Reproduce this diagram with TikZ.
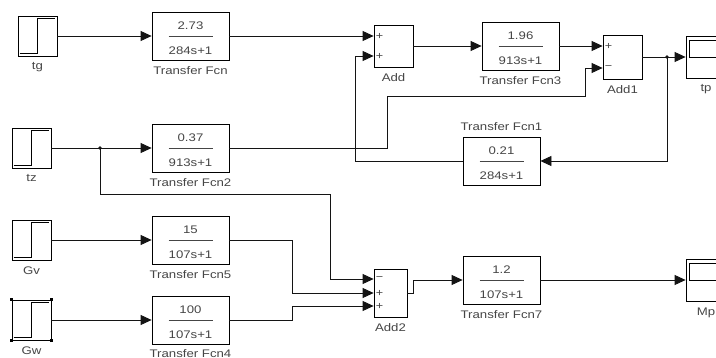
\documentclass[tikz,border=0pt]{standalone}
\usepackage{fontspec}
\setmainfont{Liberation Sans}[FakeStretch=1.2]
\usepackage{xcolor}
\usetikzlibrary{calc}
\usetikzlibrary{arrows.meta}
\def\sigwidth{0.8pt}
\definecolor{wireblack}{rgb}{0.08,0.08,0.08}
\definecolor{textgrey}{rgb}{0.27,0.27,0.27}
% numerator, bar, denominator of a transfer block
\newcommand{\tfn}[2]{\vbox{\kern4pt\hbox to 44pt{\hss#1\hss}\kern6pt\hrule height 0.8pt\kern10pt\hbox to 44pt{\hss#2\hss}}}
\newcommand{\stepsym}[1]{\draw [line width=\sigwidth] ([xshift=2pt,yshift=3pt]#1.south west) -- ([yshift=3pt]#1.south) -- ([yshift=-3pt]#1.north) -- ([xshift=-2pt,yshift=-3pt]#1.north east);}
\newcommand{\scopesym}[1]{\draw [line width=\sigwidth] ($(#1.north west)+(4,5)$) rectangle ($(#1.north east)+(-4,22)$);}

\begin{document}
\begin{tikzpicture}[x = 1pt, y = -1pt, >={Triangle[length=11pt,width=10pt]},
    every node/.style={font=\fontsize{11}{13}\selectfont},
    every label/.style={text=textgrey, inner sep=1pt},
    label distance=5pt,
    wire/.style={line width=\sigwidth, color=wireblack},
    stepbox/.style={draw, line width=\sigwidth, minimum width=39pt, minimum height=40pt, inner sep=0pt},
    tfbox/.style={draw, line width=\sigwidth, minimum width=77pt, minimum height=48pt, inner sep=0pt, text=textgrey},
    sumbox/.style={draw, line width=\sigwidth, minimum width=39pt, minimum height=42pt, inner sep=0pt},
    scopebox/.style={draw, line width=\sigwidth, minimum width=40pt, minimum height=42pt, inner sep=0pt},
    sign/.style={text=textgrey, inner sep=0pt, font=\fontsize{10.5}{10.5}\selectfont}]
        \clip (0,0) rectangle (716,358);

        % sources
            \node [stepbox, label={below:tg}] (tg) at (37.5,36) {};
            \node [stepbox, label={below:tz}] (tz) at (31.5,148) {};
            \node [stepbox, label={below:Gv}] (Gv) at (31.5,240) {};
            \node [stepbox, label={below:Gw}] (Gw) at (31.5,320) {};
        \stepsym{tg} \stepsym{tz} \stepsym{Gv} \stepsym{Gw}
        \foreach \c in {north west, north east, south west, south east}
            \fill (Gw.\c) ++(-1.8,-1.8) rectangle ++(3.6,3.6);

        % transfer functions
            \node [tfbox, label={below:Transfer Fcn}] (tf) at (190.5,36) {\tfn{2.73}{284s+1}};
            \node [tfbox, label={below:Transfer Fcn2}] (tf2) at (190.5,148) {\tfn{0.37}{913s+1}};
            \node [tfbox, label={below:Transfer Fcn5}] (tf5) at (190.5,240) {\tfn{15}{107s+1}};
            \node [tfbox, label={[label distance=4pt]below:Transfer Fcn4}] (tf4) at (190.5,320) {\tfn{100}{107s+1}};
            \node [tfbox, label={below:Transfer Fcn3}] (tf3) at (520.5,46) {\tfn{1.96}{913s+1}};
            \node [tfbox, label={above:Transfer Fcn1}] (tf1) at (501.5,161) {\tfn{0.21}{284s+1}};
            \node [tfbox, label={below:Transfer Fcn7}] (tf7) at (501.5,280) {\tfn{1.2}{107s+1}};

        % sums
            \node [sumbox, label={below:Add}] (add) at (393.5,46) {};
            \node [sumbox, minimum height=44pt, label={below:Add1}] (add1) at (622.5,57) {};
            \node [sumbox, minimum width=33pt, minimum height=48pt, label={below:Add2}] (add2) at (390.5,293) {};
        \coordinate (addin1) at ($(add.west)+(0,-10)$);
        \coordinate (addin2) at ($(add.west)+(0,10)$);
        \coordinate (add1in1) at ($(add1.west)+(0,-11)$);
        \coordinate (add1in2) at ($(add1.west)+(0,11)$);
        \coordinate (add2in1) at ($(add2.west)+(0,-14)$);
        \coordinate (add2in2) at (add2.west);
        \coordinate (add2in3) at ($(add2.west)+(0,13)$);
        \node [sign] at ($(addin1)+(6,0)$) {+};
        \node [sign] at ($(addin2)+(6,0)$) {+};
        \node [sign] at ($(add1in1)+(6,0)$) {+};
        \node [sign] at ($(add1in2)+(6,0)$) {−};
        \node [sign] at ($(add2in1)+(6,0)$) {−};
        \node [sign] at ($(add2in2)+(6,0)$) {+};
        \node [sign] at ($(add2in3)+(6,0)$) {+};

        % scopes
            \node [scopebox, label={below:tp}] (tp) at (706,57) {};
            \node [scopebox, label={below:Mp}] (Mp) at (706,280) {};
        \scopesym{tp} \scopesym{Mp}

        % wiring
        \coordinate (split1) at (667,57);
        \coordinate (split2) at (100,148);
        \coordinate (turn1) at (355,161);
        \coordinate (turn2) at (387,148);
        \coordinate (turn3) at (585,96);
        \coordinate (turn4) at (330,194);
        \coordinate (turn5) at (292,293);
        \coordinate (turn6) at (292,306);
        \coordinate (turn7) at (413,293);

        \draw [wire,->] (tg) -- (tf);
        \draw [wire,->] (tf) -- (addin1);
        \draw [wire,->] (add) -- (tf3);
        \draw [wire,->] (tf3) -- (add1in1);
        \draw [wire,->] (add1) -- (tp);
        \draw [wire,->] (split1) |- (tf1);
        \draw [wire,->] (tf1) -- (turn1) |- (addin2);
        \draw [wire,->] (tz) -- (tf2);
        \draw [wire,->] (tf2) -- (turn2) |- (turn3) |- (add1in2);
        \draw [wire,->] (split2) |- (turn4) |- (add2in1);
        \draw [wire,->] (Gv) -- (tf5);
        \draw [wire,->] (Gw) -- (tf4);
        \draw [wire,->] (tf5) -| (turn5) -- (add2in2);
        \draw [wire,->] (tf4) -| (turn6) -- (add2in3);
        \draw [wire,->] (add2) -- (turn7) |- (tf7);
        \draw [wire,->] (tf7) -- (Mp);
        \fill [wireblack] (split1) circle (1.8pt);
        \fill [wireblack] (split2) circle (1.8pt);

        \end{tikzpicture}
\end{document}
